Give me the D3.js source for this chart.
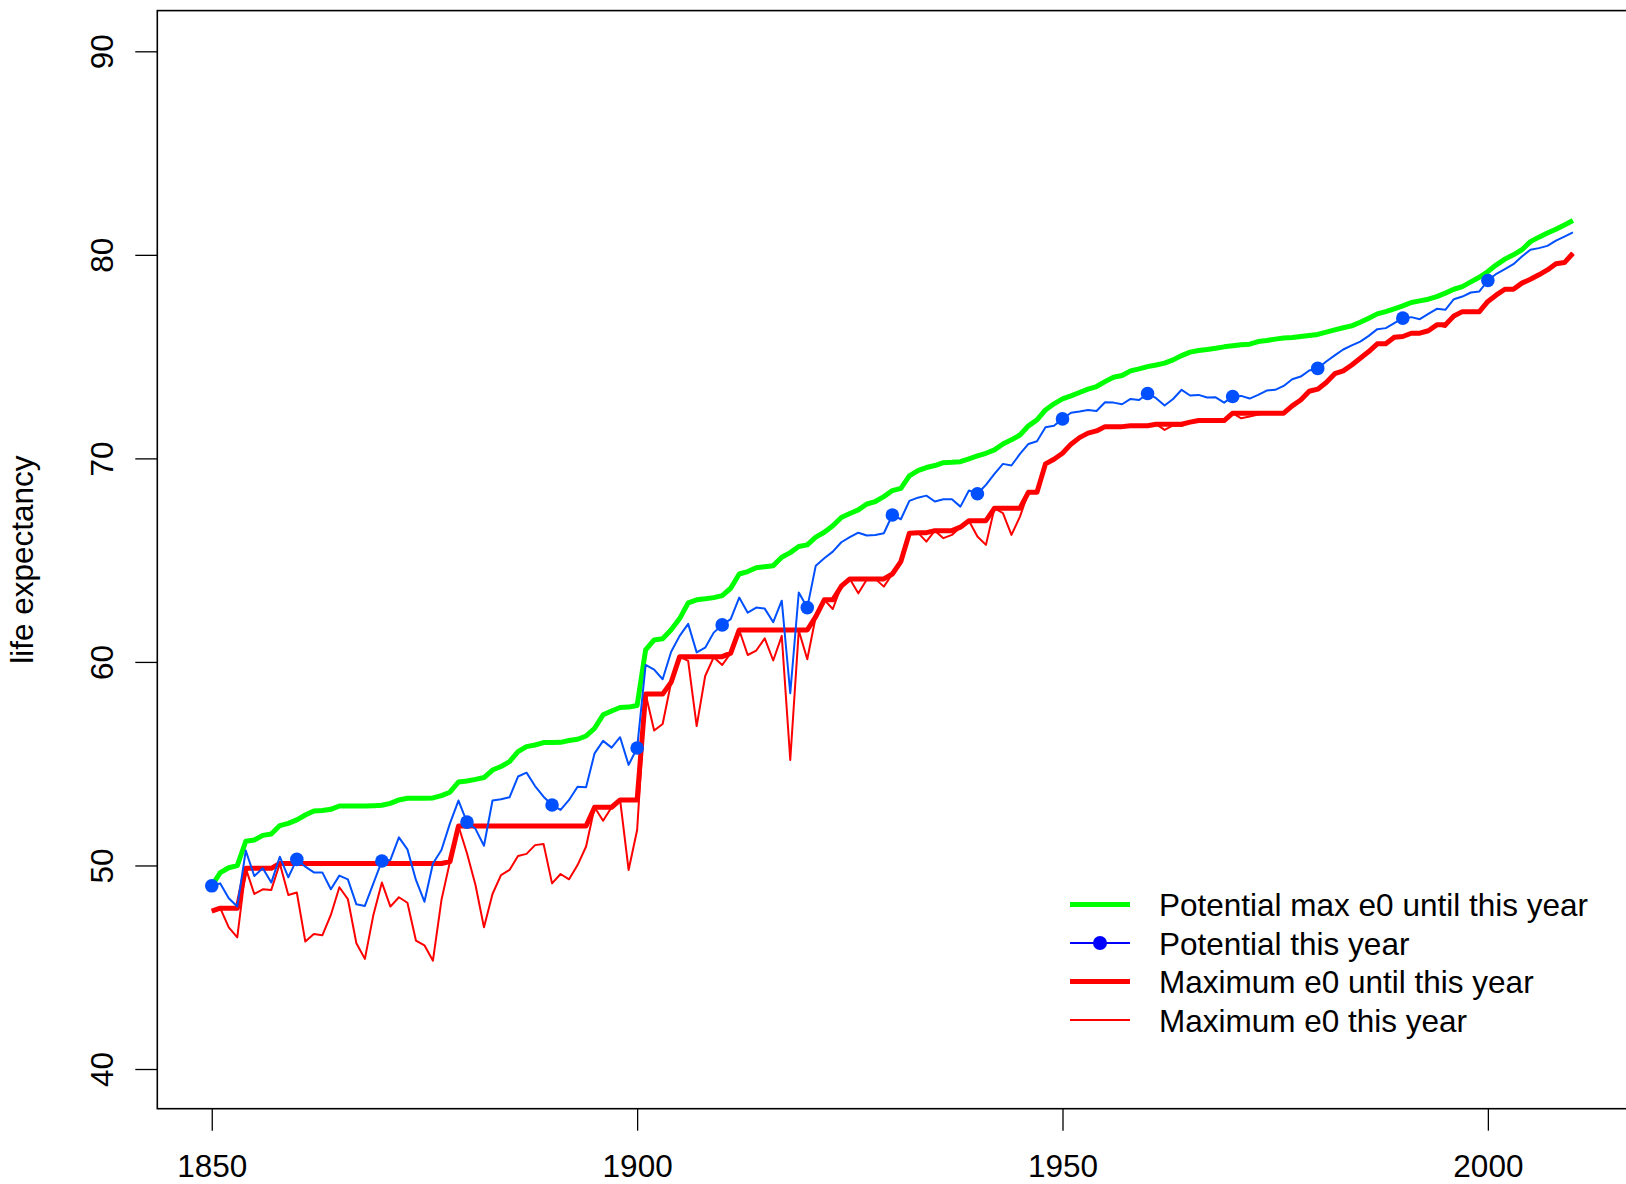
<!DOCTYPE html>
<html>
<head>
<meta charset="utf-8">
<script src="https://cdn.jsdelivr.net/npm/d3@7"></script>
<style>
  body { margin: 0; background: #fff; }
  svg { display: block; }
</style>
</head>
<body>
<div id="chart"></div>
<script>
// years 1850 - 2010, one value per year
var firstYear = 1850;
var lastYear = 2010;

// thick green: potential max e0 until this year
var potentialMax = [
  49.00, 49.65, 49.89, 49.99, 51.19, 51.25, 51.48, 51.55, 51.96, 52.07,
  52.24, 52.48, 52.68, 52.70, 52.76, 52.92, 52.92, 52.92, 52.92, 52.94,
  52.96, 53.05, 53.22, 53.30, 53.30, 53.30, 53.32, 53.43, 53.60, 54.10,
  54.15, 54.23, 54.32, 54.69, 54.86, 55.10, 55.59, 55.84, 55.92, 56.04,
  56.04, 56.05, 56.14, 56.20, 56.36, 56.74, 57.40, 57.59, 57.76, 57.78,
  57.86, 60.59, 61.08, 61.14, 61.58, 62.13, 62.90, 63.05, 63.10, 63.16,
  63.26, 63.62, 64.32, 64.44, 64.63, 64.68, 64.73, 65.14, 65.37, 65.67,
  65.75, 66.13, 66.37, 66.69, 67.10, 67.29, 67.47, 67.76, 67.88, 68.12,
  68.42, 68.53, 69.14, 69.40, 69.55, 69.65, 69.79, 69.81, 69.84, 69.98,
  70.12, 70.25, 70.42, 70.71, 70.91, 71.15, 71.60, 71.89, 72.38, 72.68,
  72.92, 73.07, 73.24, 73.40, 73.53, 73.77, 73.99, 74.07, 74.30, 74.40,
  74.51, 74.59, 74.68, 74.84, 75.05, 75.22, 75.30, 75.35, 75.41, 75.48,
  75.53, 75.58, 75.61, 75.74, 75.79, 75.86, 75.91, 75.94, 75.99, 76.04,
  76.09, 76.20, 76.31, 76.42, 76.51, 76.69, 76.89, 77.10, 77.21, 77.35,
  77.49, 77.66, 77.74, 77.82, 77.95, 78.12, 78.31, 78.44, 78.67, 78.90,
  79.18, 79.51, 79.79, 80.00, 80.25, 80.65, 80.87, 81.07, 81.26, 81.47,
  81.69
];

// thin blue: potential this year
var potentialYear = [
  49.00, 49.12, 48.39, 47.98, 50.73, 49.48, 49.86, 49.16, 50.43, 49.42,
  50.30, 49.94, 49.66, 49.66, 48.83, 49.50, 49.32, 48.09, 48.01, 49.12,
  50.22, 50.27, 51.38, 50.79, 49.29, 48.22, 50.10, 50.76, 52.07, 53.19,
  52.13, 51.80, 50.97, 53.19, 53.25, 53.35, 54.37, 54.56, 53.90, 53.38,
  52.97, 52.73, 53.22, 53.87, 53.84, 55.51, 56.12, 55.79, 56.30, 54.94,
  55.77, 59.85, 59.62, 59.15, 60.50, 61.28, 61.87, 60.47, 60.70, 61.44,
  61.82, 62.10, 63.16, 62.42, 62.67, 62.62, 61.95, 63.01, 58.46, 63.41,
  62.67, 64.73, 65.09, 65.42, 65.88, 66.13, 66.35, 66.21, 66.24, 66.32,
  67.22, 67.01, 67.91, 68.07, 68.17, 67.88, 67.99, 67.99, 67.63, 68.42,
  68.26, 68.70, 69.24, 69.73, 69.65, 70.22, 70.71, 70.84, 71.53, 71.60,
  71.94, 72.24, 72.30, 72.38, 72.33, 72.76, 72.74, 72.66, 72.92, 72.87,
  73.19, 72.96, 72.60, 72.92, 73.37, 73.09, 73.12, 72.99, 73.00, 72.74,
  73.04, 73.07, 72.94, 73.12, 73.33, 73.37, 73.56, 73.89, 74.02, 74.32,
  74.42, 74.76, 75.06, 75.35, 75.55, 75.74, 76.02, 76.35, 76.40, 76.64,
  76.89, 76.94, 76.84, 77.10, 77.35, 77.30, 77.82, 77.95, 78.15, 78.20,
  78.74, 79.07, 79.30, 79.54, 79.92, 80.25, 80.33, 80.44, 80.70, 80.90,
  81.10
];

// years marked with a dot on the blue line
var dotYears = [1850, 1860, 1870, 1880, 1890, 1900, 1910, 1920, 1930, 1940, 1950, 1960, 1970, 1980, 1990, 2000];

// thick red: maximum e0 until this year
var maxUntil = [
  47.76, 47.90, 47.90, 47.90, 49.86, 49.86, 49.86, 49.86, 50.10, 50.10,
  50.10, 50.10, 50.10, 50.10, 50.10, 50.10, 50.10, 50.10, 50.10, 50.10,
  50.10, 50.10, 50.10, 50.10, 50.10, 50.10, 50.10, 50.10, 50.19, 51.94,
  51.94, 51.94, 51.94, 51.94, 51.94, 51.94, 51.94, 51.94, 51.94, 51.94,
  51.94, 51.94, 51.94, 51.94, 51.94, 52.86, 52.86, 52.86, 53.22, 53.22,
  53.22, 58.42, 58.42, 58.42, 59.00, 60.26, 60.26, 60.26, 60.26, 60.26,
  60.26, 60.43, 61.57, 61.57, 61.57, 61.57, 61.57, 61.57, 61.57, 61.57,
  61.57, 62.23, 63.05, 63.05, 63.72, 64.08, 64.08, 64.08, 64.08, 64.08,
  64.32, 64.93, 66.32, 66.35, 66.35, 66.45, 66.45, 66.45, 66.62, 66.94,
  66.94, 66.94, 67.55, 67.55, 67.55, 67.55, 68.34, 68.34, 69.73, 69.96,
  70.25, 70.70, 71.02, 71.24, 71.35, 71.56, 71.56, 71.56, 71.60, 71.60,
  71.60, 71.68, 71.68, 71.68, 71.68, 71.78, 71.86, 71.86, 71.86, 71.86,
  72.22, 72.22, 72.22, 72.22, 72.22, 72.22, 72.22, 72.58, 72.87, 73.30,
  73.40, 73.73, 74.16, 74.30, 74.59, 74.92, 75.25, 75.63, 75.63, 75.95,
  75.99, 76.15, 76.15, 76.27, 76.56, 76.56, 77.00, 77.21, 77.21, 77.21,
  77.71, 78.03, 78.31, 78.31, 78.61, 78.80, 79.02, 79.26, 79.56, 79.62,
  80.08
];

// thin red: maximum e0 this year
var maxYear = [
  47.76, 47.90, 46.96, 46.47, 49.86, 48.60, 48.83, 48.80, 50.10, 48.55,
  48.67, 46.26, 46.63, 46.57, 47.57, 48.93, 48.35, 46.18, 45.41, 47.57,
  49.16, 47.98, 48.44, 48.17, 46.31, 46.08, 45.32, 48.30, 50.19, 51.94,
  50.60, 49.04, 46.96, 48.60, 49.53, 49.78, 50.47, 50.57, 51.00, 51.06,
  49.12, 49.58, 49.32, 50.02, 50.93, 52.86, 52.20, 52.86, 53.22, 49.78,
  51.74, 58.42, 56.63, 56.95, 59.00, 60.26, 60.05, 56.85, 59.31, 60.23,
  59.85, 60.43, 61.57, 60.34, 60.56, 61.16, 60.07, 61.28, 55.18, 61.54,
  60.13, 62.23, 63.05, 62.60, 63.72, 64.08, 63.37, 64.05, 64.08, 63.70,
  64.32, 64.93, 66.32, 66.35, 65.91, 66.45, 66.08, 66.24, 66.62, 66.94,
  66.16, 65.75, 67.55, 67.31, 66.24, 67.14, 68.34, 68.30, 69.73, 69.96,
  70.25, 70.70, 71.02, 71.24, 71.35, 71.56, 71.55, 71.50, 71.60, 71.58,
  71.60, 71.68, 71.40, 71.62, 71.60, 71.78, 71.86, 71.82, 71.80, 71.84,
  72.22, 71.97, 72.06, 72.15, 72.20, 72.22, 72.22, 72.58, 72.87, 73.30,
  73.40, 73.73, 74.16, 74.30, 74.59, 74.92, 75.25, 75.63, 75.60, 75.95,
  75.99, 76.15, 76.12, 76.27, 76.56, 76.45, 77.00, 77.21, 77.18, 77.20,
  77.71, 78.03, 78.31, 78.28, 78.61, 78.80, 79.02, 79.26, 79.56, 79.62,
  80.08
];

var xTicks = [1850, 1900, 1950, 2000];
var yTicks = [40, 50, 60, 70, 80, 90];

var legendLabels = ["Potential max e0 until this year", "Potential this year", "Maximum e0 until this year", "Maximum e0 this year"];
var legendColours = ["#00ff00", "#0000ff", "#ff0000", "#ff0000"];
var legendWidths = [5, 2, 5, 2];

var width = 1626, height = 1184;
var font = "'Liberation Sans', Arial, Helvetica, sans-serif";
var fontSize = "31.5px";

// plot box like R: 4% extra on both ends
var box = { left: 157.3, top: 10.6, right: 1627.4, bottom: 1108.7 };
var xPad = (lastYear - firstYear) * 0.04;

var years = d3.range(firstYear, lastYear + 1);

var xPositionScale = d3.scaleLinear()
  .domain([firstYear - xPad, lastYear + xPad])
  .range([box.left, box.right]);

var yPositionScale = d3.scaleLinear()
  .domain([38.05, 92.0])
  .range([box.bottom, box.top]);

var svg = d3.select("#chart")
  .append("svg")
  .attr("width", width)
  .attr("height", height);

function series(values) {
  return years.map(function(yr, i) { return { year: yr, value: values[i] }; });
}

var line = d3.line()
  .x(function(d) { return xPositionScale(d.year) })
  .y(function(d) { return yPositionScale(d.value) });

// red lines first, then green and blue on top
svg.append("path")
  .datum(series(maxUntil))
  .attr("d", line)
  .attr("fill", "none")
  .attr("stroke", "#ff0000")
  .attr("stroke-width", 5)
  .attr("stroke-linejoin", "round");

svg.append("path")
  .datum(series(maxYear))
  .attr("d", line)
  .attr("fill", "none")
  .attr("stroke", "#ff0000")
  .attr("stroke-width", 2)
  .attr("stroke-linejoin", "round");

svg.append("path")
  .datum(series(potentialMax))
  .attr("d", line)
  .attr("fill", "none")
  .attr("stroke", "#00ff00")
  .attr("stroke-width", 5)
  .attr("stroke-linejoin", "round");

svg.append("path")
  .datum(series(potentialYear))
  .attr("d", line)
  .attr("fill", "none")
  .attr("stroke", "#0050ff")
  .attr("stroke-width", 2)
  .attr("stroke-linejoin", "round");

svg.selectAll(".dot")
  .data(series(potentialYear).filter(function(d) { return dotYears.indexOf(d.year) >= 0 }))
  .enter().append("circle")
  .attr("class", "dot")
  .attr("cx", function(d) { return xPositionScale(d.year) })
  .attr("cy", function(d) { return yPositionScale(d.value) })
  .attr("r", 6.8)
  .attr("fill", "#0050ff");

// box around the plot region
svg.append("rect")
  .attr("x", box.left)
  .attr("y", box.top)
  .attr("width", box.right - box.left)
  .attr("height", box.bottom - box.top)
  .attr("fill", "none")
  .attr("stroke", "#000")
  .attr("stroke-width", 1.6);

// axes
var xAxis = d3.axisBottom(xPositionScale)
  .tickValues(xTicks)
  .tickFormat(d3.format("d"))
  .tickSize(22)
  .tickSizeOuter(0);

var gx = svg.append("g")
  .attr("class", "axis x-axis")
  .attr("transform", "translate(0," + box.bottom + ")")
  .call(xAxis);
gx.select(".domain").remove();
gx.selectAll("line").attr("stroke", "#000").attr("stroke-width", 1.3);
gx.selectAll("text")
  .attr("y", 68)
  .attr("dy", 0)
  .attr("fill", "#000")
  .style("font-family", font)
  .style("font-size", fontSize);

var yAxis = d3.axisLeft(yPositionScale)
  .tickValues(yTicks)
  .tickSize(22)
  .tickSizeOuter(0);

var gy = svg.append("g")
  .attr("class", "axis y-axis")
  .attr("transform", "translate(" + box.left + ",0)")
  .call(yAxis);
gy.select(".domain").remove();
gy.selectAll("line").attr("stroke", "#000").attr("stroke-width", 1.3);
gy.selectAll("text")
  .attr("x", 0)
  .attr("y", 0)
  .attr("dy", 0)
  .attr("text-anchor", "middle")
  .attr("transform", "translate(-44,0) rotate(-90)")
  .attr("fill", "#000")
  .style("font-family", font)
  .style("font-size", fontSize);

// y axis title
svg.append("text")
  .attr("transform", "translate(33," + ((box.top + box.bottom) / 2) + ") rotate(-90)")
  .attr("text-anchor", "middle")
  .style("font-family", font)
  .style("font-size", fontSize)
  .text("life expectancy");

// legend, no frame
var legend = svg.selectAll(".legend")
  .data(legendLabels)
  .enter().append("g")
  .attr("class", "legend")
  .attr("transform", function(d, i) { return "translate(1070," + (904.5 + i * 38.5) + ")" });

legend.append("line")
  .attr("x1", 0)
  .attr("x2", 60)
  .attr("stroke", function(d, i) { return legendColours[i] })
  .attr("stroke-width", function(d, i) { return legendWidths[i] });

legend.filter(function(d, i) { return i == 1 })
  .append("circle")
  .attr("cx", 30)
  .attr("r", 7)
  .attr("fill", legendColours[1]);

legend.append("text")
  .attr("x", 89)
  .attr("y", 11.5)
  .style("font-family", font)
  .style("font-size", fontSize)
  .text(function(d) { return d });
</script>
</body>
</html>
